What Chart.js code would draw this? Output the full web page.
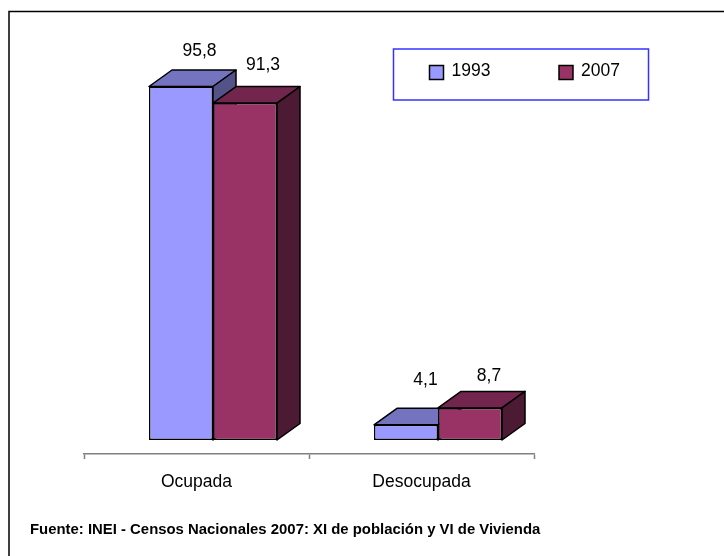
<!DOCTYPE html>
<html>
<head>
<meta charset="utf-8">
<style>
  html, body { margin: 0; padding: 0; background: #fff; }
  #wrap { position: relative; width: 724px; height: 556px; }
</style>
<script src="https://cdn.jsdelivr.net/npm/chart.js@4"></script>
</head>
<body>
<div id="wrap"><canvas id="chart" width="724" height="556"></canvas></div>
<script>
const categories = ["Ocupada", "Desocupada"];
const seriesNames = ["1993", "2007"];
const values1993 = [95.8, 4.1];
const values2007 = [91.3, 8.7];
const footerText = "Fuente: INEI - Censos Nacionales 2007: XI de población y VI de Vivienda";

const FONT = "'Liberation Sans', Arial, sans-serif";
const depth = { x: 23, y: 16.5 };
const shift = { x: 16.5, y: -14 };
const colors = [
  { front: "#9999ff", top: "#7373bf", side: "#53538a" },
  { front: "#993366", top: "#73264d", side: "#4d1a33" },
];
// small nudges for the value labels, they were placed by hand in the original
const labelNudge = [
  [{ x: 18.5, y: -35 }, { x: 19.5, y: -45 }],
  [{ x: 18, y: -38 }, { x: 19, y: -31.5 }],
];

function poly(ctx, pts, fill) {
  ctx.beginPath();
  pts.forEach((p, i) => (i ? ctx.lineTo(p[0], p[1]) : ctx.moveTo(p[0], p[1])));
  ctx.closePath();
  ctx.fillStyle = fill;
  ctx.fill();
  ctx.stroke();
}

const bars3d = {
  id: "bars3d",
  // chart.js paints the last dataset first, here 2007 has to sit on top of 1993
  beforeDatasetDraw() {
    return false;
  },
  afterDatasetsDraw(chart) {
    const ctx = chart.ctx;
    chart.data.datasets.forEach((ds, i) => {
      const meta = chart.getDatasetMeta(i);
      const c = colors[i];
      ctx.save();
      ctx.translate(shift.x, shift.y);
      ctx.strokeStyle = "#000";
      ctx.lineWidth = 1.5;
      ctx.lineJoin = "round";
      meta.data.forEach((bar) => {
        const l = bar.x - bar.width / 2;
        const r = bar.x + bar.width / 2;
        const t = bar.y;
        const b = bar.base;
        poly(ctx, [[l, t], [l + depth.x, t - depth.y], [r + depth.x, t - depth.y], [r, t]], c.top);
        poly(ctx, [[r, t], [r + depth.x, t - depth.y], [r + depth.x, b - depth.y], [r, b]], c.side);
      });
      meta.controller.draw();
      ctx.restore();
    });

    ctx.save();
    ctx.fillStyle = "#000";
    ctx.textAlign = "center";
    ctx.textBaseline = "middle";
    ctx.font = "17.5px " + FONT;
    chart.data.datasets.forEach((ds, i) => {
      chart.getDatasetMeta(i).data.forEach((bar, j) => {
        const n = labelNudge[i][j];
        const text = String(ds.data[j]).replace(".", ",");
        ctx.fillText(text, bar.x + shift.x + n.x, bar.y + shift.y + n.y);
      });
    });
    ctx.restore();
  },
};

const decorations = {
  id: "decorations",
  afterDraw(chart) {
    const ctx = chart.ctx;
    ctx.save();
    // outer frame
    ctx.strokeStyle = "#000";
    ctx.lineWidth = 1.5;
    ctx.beginPath();
    ctx.moveTo(9, 556);
    ctx.lineTo(9, 11.5);
    ctx.lineTo(724, 11.5);
    ctx.stroke();
    // legend box
    ctx.strokeStyle = "#3333ff";
    ctx.strokeRect(393.5, 49, 255, 51);
    ctx.font = "17.5px " + FONT;
    ctx.textBaseline = "middle";
    ctx.textAlign = "left";
    const swatchX = [429.5, 559];
    chart.data.datasets.forEach((ds, i) => {
      ctx.fillStyle = colors[i].front;
      ctx.strokeStyle = "#000";
      ctx.lineWidth = 1.5;
      ctx.fillRect(swatchX[i], 65.5, 14, 14);
      ctx.strokeRect(swatchX[i], 65.5, 14, 14);
      ctx.fillStyle = "#000";
      ctx.fillText(ds.label, swatchX[i] + 22, 71);
    });
    // source note
    ctx.font = "bold 14.9px " + FONT;
    ctx.fillText(footerText, 30, 530);
    ctx.restore();
  },
};

new Chart(document.getElementById("chart"), {
  type: "bar",
  data: {
    labels: categories,
    datasets: [
      { label: seriesNames[0], data: values1993, backgroundColor: colors[0].front, borderColor: "#000", borderWidth: 1.5, borderSkipped: false },
      { label: seriesNames[1], data: values2007, backgroundColor: colors[1].front, borderColor: "#000", borderWidth: 1.5, borderSkipped: false },
    ],
  },
  options: {
    responsive: false,
    animation: false,
    layout: { padding: { left: 84, right: 190, top: 85, bottom: 62 } },
    categoryPercentage: 0.569,
    barPercentage: 1,
    plugins: {
      legend: { display: false },
      tooltip: { enabled: false },
    },
    scales: {
      x: {
        afterFit(scale) { scale.height = 40; },
        border: { color: "#808080", width: 1.5 },
        grid: { offset: true, drawOnChartArea: false, color: "#808080", tickLength: 5, tickWidth: 1.5 },
        ticks: { color: "#000", font: { family: FONT, size: 17.5 }, padding: 13, maxRotation: 0 },
      },
      y: { display: false, min: 0, max: 100 },
    },
  },
  plugins: [bars3d, decorations],
});
</script>
</body>
</html>
